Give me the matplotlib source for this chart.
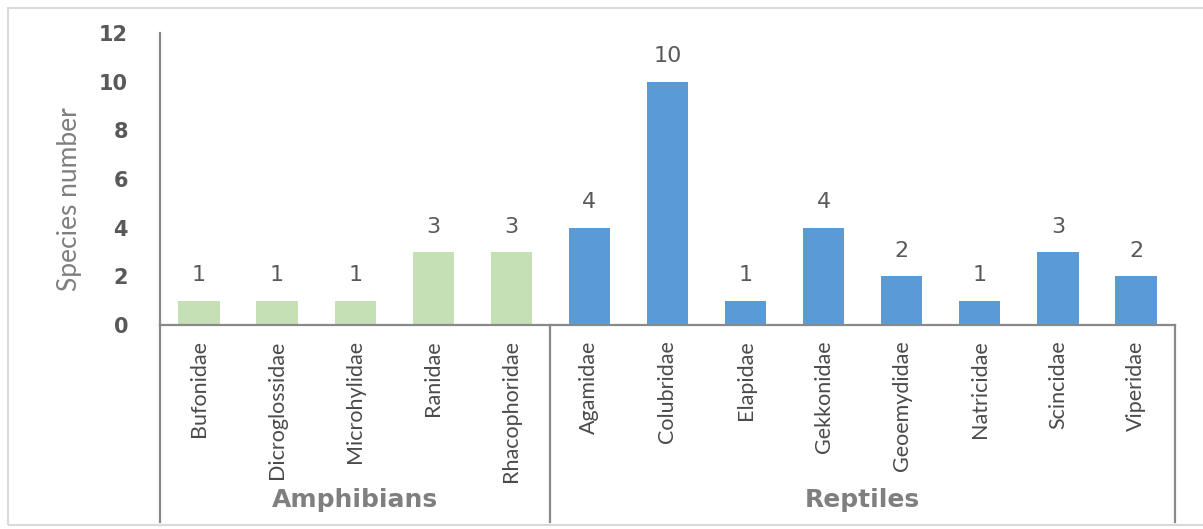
import matplotlib
matplotlib.use("Agg")
import matplotlib.pyplot as plt
import matplotlib.transforms as mtrans
from matplotlib.patches import Rectangle

# data
families = ["Bufonidae", "Dicroglossidae", "Microhylidae", "Ranidae", "Rhacophoridae",
            "Agamidae", "Colubridae", "Elapidae", "Gekkonidae", "Geoemydidae",
            "Natricidae", "Scincidae", "Viperidae"]
species = [1, 1, 1, 3, 3, 4, 10, 1, 4, 2, 1, 3, 2]
groups = ["Amphibians", "Reptiles"]
group_sizes = [5, 8]
y_ticks = [0, 2, 4, 6, 8, 10, 12]

GREEN = "#C5E0B4"
BLUE = "#5B9BD5"
TXT = "#595959"
LINE = "#898989"
NARROW = ["Lato", "DejaVu Sans"]

W, H = 1203, 529
fig = plt.figure(figsize=(W / 100, H / 100), dpi=100)
ax = fig.add_axes([160 / W, (H - 325) / H, 1015 / W, 292 / H])

colors = []
for g, n in zip(groups, group_sizes):
    colors += [GREEN if g == "Amphibians" else BLUE] * n

x = list(range(len(families)))
bars = ax.bar(x, species, width=0.53, color=colors, zorder=2)
for b, v in zip(bars, species):
    ax.annotate(str(v), (b.get_x() + b.get_width() / 2, v), xytext=(0, 11),
                textcoords="offset points", ha="center", va="bottom",
                fontsize=16, color=TXT)

ax.set_xlim(-0.5, len(families) - 0.5)
ax.set_ylim(0, 12)
ax.set_yticks(y_ticks)
ax.set_yticklabels([str(t) for t in y_ticks], fontsize=15, fontweight="bold", color=TXT)
ax.tick_params(axis="y", length=0, pad=23)
ax.tick_params(axis="x", length=0, pad=11)
ax.set_xticks(x)
ax.set_xticklabels(families, rotation=90, fontsize=15.5, color="#4A4A4A", family=NARROW, va="top")
ax.set_ylabel("Species number", fontsize=19, color="#7F7F7F", family=NARROW)
ax.yaxis.set_label_coords(-0.077, 0.43)

for s in ["top", "right"]:
    ax.spines[s].set_visible(False)
for s in ["left", "bottom"]:
    ax.spines[s].set_color(LINE)
    ax.spines[s].set_linewidth(1.6)

# group separators and group labels under the axis
trans = mtrans.blended_transform_factory(ax.transData, ax.transAxes)
low = -(522 - 325) / 292
edges = [-0.5]
for n in group_sizes:
    edges.append(edges[-1] + n)
for e in edges:
    ax.plot([e, e], [0, low], transform=trans, color=LINE, lw=1.6, clip_on=False)
for i, g in enumerate(groups):
    ax.text((edges[i] + edges[i + 1]) / 2, -(500 - 325) / 292, g, transform=trans,
            ha="center", va="center", fontsize=18, fontweight="bold", color="#7F7F7F")

# outer light frame
fig.patches.append(Rectangle((8 / W, 4 / H), 1.2, (H - 12) / H, transform=fig.transFigure,
                             fill=False, edgecolor="#D9D9D9", lw=1.5))

fig.savefig("out.png", dpi=100)
